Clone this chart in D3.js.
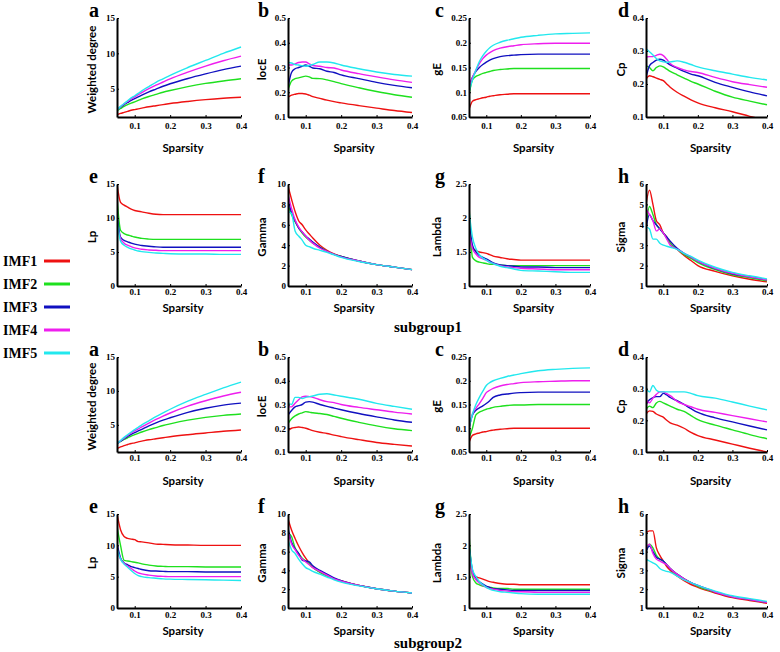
<!DOCTYPE html>
<html><head><meta charset="utf-8">
<script src="https://cdn.jsdelivr.net/npm/d3@7"></script>
<style>body{margin:0;background:#fff}svg{display:block}</style>
</head><body>
<svg id="chart" width="780" height="652"></svg>
<script>
// ---------- DATA ----------
const sparsity = [0.05,0.06,0.07,0.08,0.09,0.10,0.11,0.12,0.14,0.16,0.18,0.20,0.25,0.30,0.35,0.40];
const seriesNames = ["IMF1","IMF2","IMF3","IMF4","IMF5"];
const xTickValues = [0.1,0.2,0.3,0.4];
const panelLetters = ["a","b","c","d","e","f","g","h"];
const yTitles = ["Weighted degree","locE","gE","Cp","Lp","Gamma","Lambda","Sigma"];
const yDomains = [[1,15],[0.1,0.5],[0.05,0.25],[0.1,0.4],[0,15],[0,10],[1,2.5],[1,6]];
const yTickValues = [[5,10,15],[0.1,0.2,0.3,0.4,0.5],[0.05,0.1,0.15,0.2,0.25],[0.1,0.2,0.3,0.4],[0,5,10,15],[0,2,4,6,8,10],[1,1.5,2,2.5],[1,2,3,4,5,6]];
const yTickLabels = [["5","10","15"],["0.1","0.2","0.3","0.4","0.5"],["0.05","0.1","0.15","0.2","0.25"],["0.1","0.2","0.3","0.4"],["0","5","10","15"],["0","2","4","6","8","10"],["1","1.5","2","2.5"],["1","2","3","4","5","6"]];
const groupLabels = ["subgroup1","subgroup2"];

// subgroup1 — each: [IMF1, IMF2, IMF3, IMF4, IMF5]
const s1WeightedDegree = [
 [1.3,1.5,1.65,1.8,1.95,2.05,2.15,2.25,2.45,2.6,2.75,2.9,3.2,3.45,3.65,3.8],
 [1.9,2.2,2.5,2.75,2.95,3.15,3.35,3.55,3.9,4.2,4.5,4.75,5.3,5.75,6.1,6.4],
 [2.0,2.4,2.75,3.05,3.35,3.6,3.85,4.1,4.55,4.95,5.35,5.7,6.45,7.1,7.7,8.2],
 [2.0,2.45,2.85,3.2,3.55,3.85,4.15,4.45,5.0,5.5,5.95,6.4,7.35,8.2,8.95,9.6],
 [2.0,2.5,2.9,3.3,3.7,4.0,4.35,4.7,5.3,5.9,6.4,6.9,8.0,9.0,10.0,10.9]];
const s1LocE = [
 [0.18,0.188,0.192,0.195,0.195,0.193,0.188,0.182,0.175,0.168,0.162,0.157,0.146,0.136,0.126,0.118],
 [0.21,0.245,0.255,0.258,0.262,0.265,0.262,0.256,0.255,0.25,0.243,0.235,0.218,0.203,0.19,0.18],
 [0.22,0.28,0.295,0.3,0.305,0.31,0.305,0.298,0.295,0.285,0.28,0.27,0.255,0.24,0.228,0.218],
 [0.31,0.31,0.315,0.32,0.322,0.322,0.315,0.308,0.305,0.3,0.298,0.29,0.275,0.262,0.25,0.24],
 [0.32,0.318,0.312,0.31,0.307,0.305,0.308,0.312,0.322,0.322,0.318,0.31,0.295,0.282,0.272,0.265]];
const s1GE = [
 [0.065,0.082,0.085,0.087,0.089,0.09,0.092,0.093,0.095,0.096,0.097,0.097,0.097,0.097,0.097,0.097],
 [0.095,0.125,0.132,0.135,0.138,0.14,0.142,0.144,0.146,0.147,0.148,0.148,0.148,0.148,0.148,0.148],
 [0.112,0.13,0.142,0.15,0.156,0.161,0.165,0.168,0.172,0.174,0.175,0.176,0.177,0.177,0.177,0.177],
 [0.11,0.13,0.145,0.158,0.168,0.175,0.18,0.184,0.189,0.192,0.194,0.196,0.198,0.199,0.199,0.199],
 [0.1,0.125,0.145,0.162,0.174,0.183,0.19,0.195,0.201,0.205,0.208,0.211,0.215,0.218,0.219,0.22]];
const s1Cp = [
 [0.215,0.225,0.222,0.218,0.214,0.21,0.2,0.19,0.175,0.163,0.152,0.143,0.128,0.116,0.102,0.09],
 [0.255,0.25,0.24,0.25,0.255,0.252,0.245,0.238,0.228,0.218,0.208,0.2,0.178,0.16,0.148,0.137],
 [0.22,0.255,0.265,0.272,0.275,0.272,0.265,0.258,0.248,0.238,0.23,0.225,0.205,0.19,0.176,0.164],
 [0.282,0.283,0.283,0.287,0.29,0.286,0.275,0.262,0.25,0.243,0.238,0.235,0.22,0.207,0.198,0.19],
 [0.307,0.298,0.288,0.277,0.27,0.267,0.266,0.267,0.27,0.266,0.259,0.252,0.24,0.23,0.22,0.212]];
const s1Lp = [
 [15,12.3,11.9,11.6,11.3,11.1,11.0,10.9,10.7,10.55,10.5,10.5,10.5,10.5,10.5,10.5],
 [13,8.2,7.7,7.5,7.35,7.2,7.1,7.0,6.9,6.85,6.85,6.85,6.85,6.85,6.85,6.85],
 [10.5,7.2,6.7,6.5,6.3,6.15,6.05,5.95,5.85,5.75,5.7,5.7,5.7,5.7,5.7,5.7],
 [9.0,7.0,6.3,6.0,5.8,5.6,5.5,5.4,5.3,5.25,5.2,5.2,5.2,5.2,5.2,5.2],
 [10,6.6,6.0,5.7,5.45,5.3,5.15,5.05,4.95,4.85,4.8,4.75,4.7,4.7,4.65,4.65]];
const s1Gamma = [
 [9.8,8.5,7.3,6.4,6.0,5.5,5.1,4.7,4.0,3.5,3.15,2.9,2.45,2.1,1.85,1.6],
 [8.0,7.0,6.3,5.7,5.2,4.8,4.5,4.2,3.8,3.4,3.1,2.9,2.45,2.1,1.85,1.6],
 [8.5,7.2,6.4,5.7,5.3,4.9,4.6,4.3,3.8,3.4,3.1,2.9,2.45,2.1,1.85,1.6],
 [9.0,7.6,6.5,5.8,5.3,4.9,4.5,4.2,3.7,3.4,3.1,2.85,2.45,2.1,1.85,1.6],
 [7.3,7.1,5.4,4.9,4.5,4.0,3.85,3.7,3.5,3.3,3.05,2.8,2.4,2.1,1.85,1.6]];
const s1Lambda = [
 [2.0,1.56,1.52,1.5,1.49,1.48,1.46,1.44,1.42,1.4,1.39,1.38,1.38,1.38,1.38,1.38],
 [2.2,1.42,1.37,1.35,1.34,1.33,1.32,1.32,1.31,1.3,1.3,1.3,1.3,1.3,1.3,1.3],
 [2.0,1.6,1.5,1.45,1.42,1.4,1.37,1.34,1.31,1.3,1.29,1.28,1.28,1.27,1.27,1.27],
 [1.8,1.55,1.47,1.42,1.4,1.38,1.35,1.33,1.3,1.28,1.27,1.26,1.25,1.24,1.24,1.24],
 [2.1,1.72,1.55,1.46,1.41,1.38,1.35,1.33,1.29,1.27,1.25,1.23,1.22,1.21,1.2,1.2]];
const s1Sigma = [
 [5.0,5.7,5.0,4.2,4.0,3.6,3.4,3.1,2.8,2.5,2.25,2.0,1.72,1.5,1.33,1.2],
 [3.8,4.9,4.5,4.0,3.8,3.6,3.35,3.1,2.8,2.55,2.35,2.15,1.8,1.55,1.4,1.25],
 [3.8,4.5,4.2,4.0,3.8,3.6,3.4,3.2,2.85,2.6,2.42,2.22,1.85,1.6,1.45,1.3],
 [4.8,4.5,4.2,3.7,3.8,3.6,3.3,3.0,2.8,2.6,2.42,2.22,1.87,1.62,1.45,1.3],
 [3.9,3.8,3.3,3.3,3.1,3.0,2.95,2.9,2.8,2.6,2.45,2.27,1.92,1.67,1.5,1.35]];

// subgroup2
const s2WeightedDegree = [
 [1.5,1.75,1.95,2.1,2.25,2.35,2.5,2.6,2.8,2.95,3.1,3.25,3.55,3.8,4.05,4.25],
 [2.2,2.55,2.85,3.1,3.35,3.55,3.75,3.95,4.3,4.6,4.9,5.15,5.7,6.1,6.4,6.6],
 [2.2,2.6,2.95,3.3,3.6,3.85,4.1,4.35,4.85,5.3,5.7,6.05,6.85,7.45,7.9,8.2],
 [2.2,2.65,3.05,3.45,3.8,4.1,4.4,4.7,5.25,5.8,6.3,6.75,7.75,8.55,9.25,9.8],
 [2.2,2.7,3.15,3.55,3.95,4.3,4.65,5.0,5.6,6.2,6.75,7.3,8.5,9.5,10.45,11.3]];
const s2LocE = [
 [0.19,0.2,0.203,0.205,0.203,0.2,0.195,0.19,0.183,0.178,0.171,0.165,0.152,0.14,0.132,0.125],
 [0.22,0.24,0.252,0.26,0.265,0.27,0.268,0.265,0.262,0.258,0.25,0.242,0.225,0.21,0.198,0.19],
 [0.255,0.275,0.29,0.295,0.3,0.31,0.312,0.31,0.3,0.292,0.285,0.278,0.262,0.248,0.235,0.225],
 [0.29,0.29,0.305,0.32,0.332,0.335,0.333,0.33,0.32,0.312,0.308,0.3,0.288,0.278,0.268,0.26],
 [0.31,0.3,0.33,0.33,0.325,0.33,0.333,0.336,0.343,0.345,0.34,0.335,0.322,0.305,0.292,0.28]];
const s2GE = [
 [0.07,0.085,0.088,0.09,0.092,0.093,0.095,0.096,0.098,0.099,0.1,0.1,0.1,0.1,0.1,0.1],
 [0.08,0.1,0.128,0.134,0.137,0.14,0.142,0.144,0.146,0.148,0.149,0.149,0.15,0.15,0.15,0.15],
 [0.1,0.128,0.138,0.143,0.147,0.152,0.158,0.165,0.17,0.172,0.174,0.175,0.176,0.176,0.176,0.176],
 [0.1,0.13,0.142,0.152,0.163,0.175,0.18,0.184,0.189,0.192,0.194,0.196,0.198,0.199,0.2,0.2],
 [0.1,0.13,0.15,0.165,0.178,0.19,0.196,0.2,0.205,0.209,0.212,0.215,0.221,0.224,0.226,0.227]];
const s2Cp = [
 [0.22,0.23,0.228,0.22,0.215,0.21,0.2,0.192,0.185,0.175,0.162,0.152,0.138,0.125,0.112,0.1],
 [0.235,0.245,0.24,0.255,0.26,0.255,0.25,0.245,0.235,0.228,0.215,0.202,0.185,0.17,0.155,0.142],
 [0.25,0.265,0.272,0.275,0.275,0.285,0.28,0.272,0.262,0.25,0.237,0.225,0.208,0.195,0.182,0.17],
 [0.265,0.255,0.27,0.282,0.29,0.29,0.284,0.278,0.26,0.25,0.243,0.235,0.225,0.215,0.205,0.195],
 [0.3,0.29,0.31,0.295,0.29,0.29,0.29,0.29,0.29,0.29,0.285,0.278,0.27,0.258,0.245,0.233]];
const s2Lp = [
 [15,12.5,11.4,11.1,11.0,10.9,10.6,10.55,10.4,10.2,10.15,10.1,10.05,10.0,10.0,10.0],
 [13,10,7.6,7.5,7.4,7.3,7.2,7.05,6.85,6.7,6.65,6.6,6.6,6.55,6.55,6.55],
 [10.3,8.0,7.2,6.9,6.6,6.45,6.3,6.15,5.95,5.9,5.85,5.8,5.8,5.75,5.75,5.75],
 [9.3,7.8,7.1,6.7,6.3,5.9,5.6,5.45,5.25,5.1,5.05,5.0,5.0,5.0,5.0,5.0],
 [9.6,7.8,7.0,6.5,6.0,5.5,5.15,5.0,4.85,4.75,4.65,4.6,4.55,4.5,4.45,4.4]];
const s2Gamma = [
 [9.5,8.3,7.4,6.6,5.9,5.3,4.8,4.4,3.8,3.4,3.1,2.9,2.4,2.05,1.8,1.6],
 [8.0,7.6,6.4,5.8,5.3,5.0,4.7,4.3,3.8,3.45,3.1,2.85,2.4,2.05,1.8,1.6],
 [8.5,7.0,6.3,5.8,5.1,5.0,4.9,4.5,4.0,3.6,3.2,2.9,2.4,2.05,1.8,1.6],
 [8.2,6.8,6.2,5.6,5.2,4.9,4.6,4.3,3.9,3.5,3.1,2.85,2.4,2.05,1.8,1.6],
 [7.3,6.2,5.8,5.2,4.7,4.3,4.1,3.9,3.6,3.3,3.0,2.75,2.35,2.05,1.8,1.6]];
const s2Lambda = [
 [2.0,1.55,1.5,1.48,1.46,1.44,1.42,1.41,1.39,1.38,1.38,1.37,1.37,1.37,1.37,1.37],
 [2.2,1.5,1.4,1.37,1.35,1.34,1.33,1.32,1.31,1.31,1.3,1.3,1.3,1.3,1.3,1.3],
 [2.0,1.6,1.48,1.42,1.38,1.35,1.33,1.31,1.3,1.29,1.28,1.28,1.28,1.28,1.28,1.28],
 [1.9,1.55,1.45,1.4,1.36,1.33,1.31,1.3,1.28,1.27,1.26,1.26,1.25,1.25,1.25,1.25],
 [2.0,1.62,1.5,1.42,1.37,1.33,1.3,1.28,1.26,1.25,1.24,1.23,1.22,1.22,1.22,1.22]];
const s2Sigma = [
 [5.0,5.1,5.1,4.2,3.8,3.5,3.2,3.0,2.7,2.45,2.25,2.1,1.8,1.55,1.4,1.25],
 [4.0,4.4,4.2,3.8,3.6,3.5,3.3,3.1,2.8,2.55,2.35,2.15,1.85,1.6,1.45,1.3],
 [4.0,4.3,4.0,3.7,3.6,3.5,3.3,3.1,2.8,2.55,2.35,2.2,1.85,1.6,1.45,1.3],
 [4.2,4.4,3.9,3.6,3.5,3.4,3.3,3.1,2.8,2.55,2.35,2.2,1.85,1.6,1.45,1.3],
 [3.6,3.5,3.4,3.3,3.1,3.0,2.95,2.9,2.7,2.5,2.35,2.2,1.9,1.65,1.5,1.35]];

const subgroup1 = [s1WeightedDegree,s1LocE,s1GE,s1Cp,s1Lp,s1Gamma,s1Lambda,s1Sigma];
const subgroup2 = [s2WeightedDegree,s2LocE,s2GE,s2Cp,s2Lp,s2Gamma,s2Lambda,s2Sigma];

// ---------- STYLE / LAYOUT ----------
const colors = ["#ee1111","#1ee01e","#1010c0","#ee1eee","#22e8ee"];
const colX = [[117,241],[288,412],[469,590],[646,767]];
const rowY = [[18,117],[184,286],[357,452],[514,608]];
const tickOff = [12,9,9,10];
const titleOff = [31,22,29,23];
const letterX = [89,258,435,618];
const titleDx = [24,25,31,24];

const svg = d3.select("#chart");
const serif = "'Liberation Serif','Times New Roman',serif";
const sans = "Lato,'Open Sans',sans-serif";

function drawPanel(values, idx, row, gi){
  const col = idx % 4;
  const [x0,x1] = colX[col];
  const [yTop,yBot] = rowY[row];
  const x = d3.scaleLinear().domain([0.05,0.4]).range([x0,x1]);
  const y = d3.scaleLinear().domain(yDomains[idx]).range([yBot,yTop]);
  const g = svg.append("g");
  const cid = "clip"+gi+"_"+idx;
  g.append("clipPath").attr("id",cid).append("rect")
    .attr("x",x0).attr("y",yTop-2).attr("width",x1-x0+2).attr("height",yBot-yTop+2);
  const line = d3.line().x((d,i)=>x(sparsity[i])).y(d=>y(d)).curve(d3.curveMonotoneX);
  const lg = g.append("g").attr("clip-path",`url(#${cid})`);
  values.forEach((s,k)=>{
    lg.append("path").attr("d",line(s)).attr("fill","none")
      .attr("stroke",colors[k]).attr("stroke-width",1.4);
  });
  // axes
  const xa = g.append("g").attr("transform",`translate(0,${yBot})`)
    .call(d3.axisBottom(x).tickValues(xTickValues).tickFormat(d3.format(".1f")).tickSize(-2).tickSizeOuter(0));
  const ya = g.append("g").attr("transform",`translate(${x0},0)`)
    .call(d3.axisLeft(y).tickValues(yTickValues[idx]).tickFormat((d,i)=>yTickLabels[idx][i]).tickSize(-2).tickSizeOuter(0));
  [xa,ya].forEach(a=>{
    a.select(".domain").attr("stroke","#000").attr("stroke-width",2);
    a.selectAll(".tick line").attr("stroke","#000");
    a.selectAll("text").attr("font-family",serif).attr("font-weight","bold").attr("font-size",9).attr("fill","#000");
  });
  xa.selectAll("text").attr("y",tickOff[row]-6);
  ya.selectAll("text").attr("x",-2);
  // titles
  g.append("text").attr("x",(x0+x1)/2+4).attr("y",yBot+titleOff[row]+4)
    .attr("text-anchor","middle").attr("font-family",sans).attr("font-weight","bold")
    .attr("font-size",11.5).text("Sparsity");
  g.append("text").attr("transform",`translate(${x0-titleDx[col]},${(yTop+yBot)/2+2}) rotate(-90)`)
    .attr("text-anchor","middle").attr("dominant-baseline","middle").attr("font-family",sans).attr("font-weight","bold")
    .attr("font-size",11.5).text(yTitles[idx]);
  g.append("text").attr("x",letterX[col]).attr("y",yTop-1)
    .attr("font-family",serif).attr("font-weight","bold").attr("font-size",20).text(panelLetters[idx]);
}

subgroup1.forEach((v,i)=>drawPanel(v,i,i<4?0:1,1));
subgroup2.forEach((v,i)=>drawPanel(v,i,i<4?2:3,2));

// group labels
[[428,332],[428,648]].forEach((p,i)=>{
  svg.append("text").attr("x",p[0]).attr("y",p[1]).attr("text-anchor","middle")
    .attr("font-family",serif).attr("font-weight","bold").attr("font-size",15).text(groupLabels[i]);
});

// legend
const legY = [261,284,307,330,353];
seriesNames.forEach((n,k)=>{
  svg.append("text").attr("x",3).attr("y",legY[k]+5).attr("font-family",serif)
    .attr("font-weight","bold").attr("font-size",14).text(n);
  svg.append("line").attr("x1",44).attr("x2",70).attr("y1",legY[k]).attr("y2",legY[k])
    .attr("stroke",colors[k]).attr("stroke-width",3);
});
</script>
</body></html>
